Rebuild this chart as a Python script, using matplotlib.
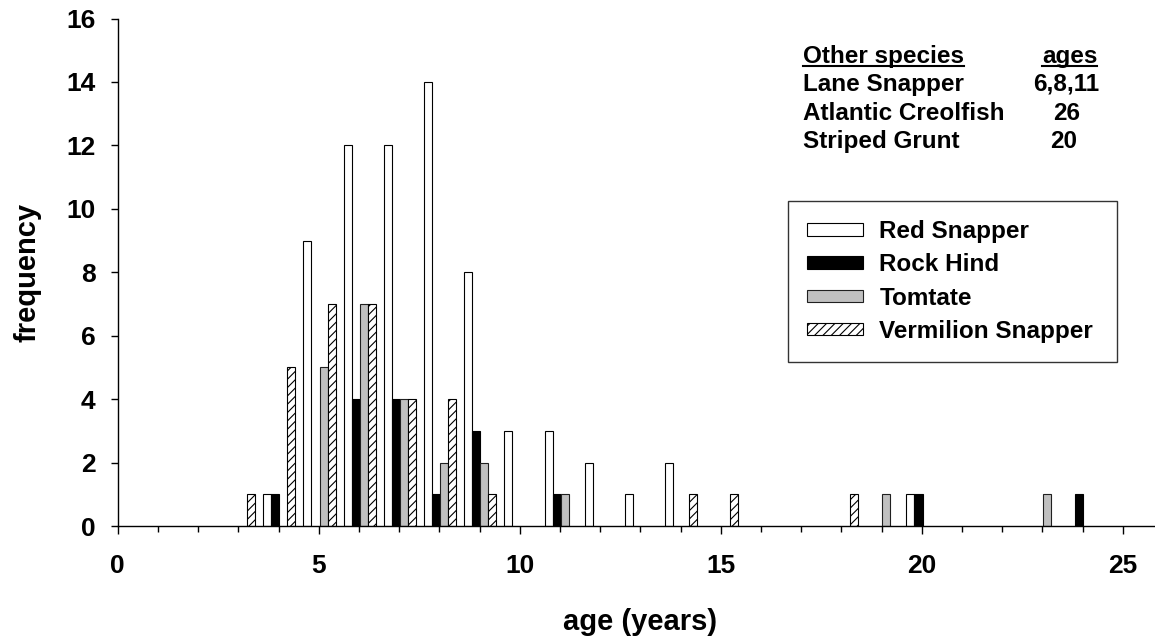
import matplotlib
matplotlib.use('Agg')
import matplotlib.pyplot as plt
from matplotlib.lines import Line2D
import numpy as np

# ---------------- data ----------------
ages = list(range(26))
red_snapper = [0, 0, 0, 0, 1, 9, 12, 12, 14, 8, 3, 3, 2, 1, 2, 0, 0, 0, 0, 0, 1, 0, 0, 0, 0, 0]
rock_hind   = [0, 0, 0, 0, 1, 0, 4, 4, 1, 3, 0, 1, 0, 0, 0, 0, 0, 0, 0, 0, 1, 0, 0, 0, 1, 0]
tomtate     = [0, 0, 0, 0, 0, 5, 7, 4, 2, 2, 0, 1, 0, 0, 0, 0, 0, 0, 0, 1, 0, 0, 0, 1, 0, 0]
vermilion   = [0, 0, 0, 1, 5, 7, 7, 4, 4, 1, 0, 0, 0, 0, 1, 1, 0, 0, 1, 0, 0, 0, 0, 0, 0, 0]
series_names = ["Red Snapper", "Rock Hind", "Tomtate", "Vermilion Snapper"]

other_species = ["Lane Snapper", "Atlantic Creolfish", "Striped Grunt"]
other_ages = ["6,8,11", "26", "20"]

x_ticks = [0, 5, 10, 15, 20, 25]
y_ticks = [0, 2, 4, 6, 8, 10, 12, 14, 16]

# ---------------- style ----------------
plt.rcParams['font.family'] = ['Liberation Sans', 'DejaVu Sans']
plt.rcParams['font.weight'] = 'bold'
plt.rcParams['hatch.linewidth'] = 0.8

W, H = 1155, 642
fig = plt.figure(figsize=(W / 100, H / 100), dpi=100)

x0_px, y_base_px, y_top_px, px_per_unit = 117.7, 526.0, 18.5, 40.2
x_max = 26
ax = fig.add_axes([x0_px / W, 1 - y_base_px / H,
                   x_max * px_per_unit / W, (y_base_px - y_top_px) / H])

styles = [
    dict(facecolor='white', edgecolor='black', hatch=None),
    dict(facecolor='black', edgecolor='black', hatch=None),
    dict(facecolor='#c0c0c0', edgecolor='#202020', hatch=None),
    dict(facecolor='white', edgecolor='black', hatch='////'),
]
offsets = [-0.28, -0.08, 0.12, 0.32]
width = 0.2

ages_arr = np.array(ages)
handles = []
for vals, name, st, off in zip([red_snapper, rock_hind, tomtate, vermilion],
                               series_names, styles, offsets):
    v = np.array(vals)
    m = v > 0
    b = ax.bar(ages_arr[m] + off, v[m], width=width, linewidth=0.8,
               label=name, **st)
    handles.append(b)

ax.set_xlim(0, x_max)
ax.set_ylim(0, 16)
ax.set_xticks(x_ticks)
ax.set_xticks(ages, minor=True)
ax.set_yticks(y_ticks)
for s in ['top', 'right']:
    ax.spines[s].set_visible(False)
for s in ['left', 'bottom']:
    ax.spines[s].set_linewidth(1.0)
ax.tick_params(axis='x', which='major', direction='out', length=6, width=1,
               labelsize=19, pad=14)
ax.tick_params(axis='x', which='minor', direction='out', length=4, width=1)
ax.tick_params(axis='y', which='major', direction='out', length=5, width=1,
               labelsize=19, pad=11)
for lab in ax.get_xticklabels() + ax.get_yticklabels():
    lab.set_fontweight('bold')

ax.set_xlabel("age (years)", fontsize=21, fontweight='bold', labelpad=22)
ax.set_ylabel("frequency", fontsize=21, fontweight='bold', labelpad=18)

# legend
leg = ax.legend(handles=handles, labels=series_names,
                loc='upper left',
                bbox_to_anchor=(788 / W, 1 - 361.7 / H, (1117 - 788) / W, (361.7 - 200.7) / H),
                bbox_transform=fig.transFigure, mode='expand',
                borderaxespad=0, fontsize=17.5, frameon=True, fancybox=False,
                handlelength=2.3, handleheight=0.42, handletextpad=0.66,
                labelspacing=0.42, borderpad=0.8)
leg.get_frame().set_edgecolor('black')
leg.get_frame().set_linewidth(1.0)
for t in leg.get_texts():
    t.set_fontweight('bold')

# other species text block
def fy(py):
    return 1 - py / H

hdr1 = fig.text(803 / W, fy(63), "Other species", fontsize=17.5, fontweight='bold',
                ha='left', va='baseline')
hdr2 = fig.text(1069.5 / W, fy(63), "ages", fontsize=17.5, fontweight='bold',
                ha='center', va='baseline')
row_y = [91, 119.5, 148]
age_cx = [1066.5, 1066.5, 1063.5]
for sp, ag, yy, cx in zip(other_species, other_ages, row_y, age_cx):
    fig.text(803 / W, fy(yy), sp, fontsize=17.5, fontweight='bold', ha='left', va='baseline')
    fig.text(cx / W, fy(yy), ag, fontsize=17.5, fontweight='bold', ha='center', va='baseline')

fig.canvas.draw()
renderer = fig.canvas.get_renderer()
for t in (hdr1, hdr2):
    bb = t.get_window_extent(renderer)
    yline = (H - 63 - 2.5) / H
    fig.add_artist(Line2D([bb.x0 / W, bb.x1 / W], [yline, yline],
                          transform=fig.transFigure, color='black', linewidth=1.5))

fig.savefig("out.png", dpi=100)
